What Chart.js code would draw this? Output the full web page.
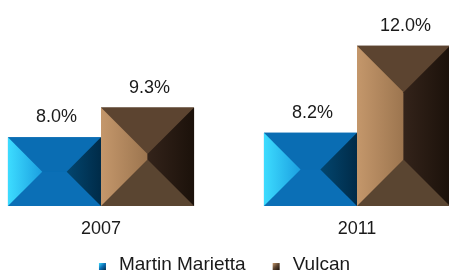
<!DOCTYPE html>
<html>
<head>
<meta charset="utf-8">
<script src="https://cdn.jsdelivr.net/npm/chart.js@4.4.0/dist/chart.umd.min.js"></script>
<style>
  html, body { margin: 0; padding: 0; background: #fff; }
  #wrap { width: 449px; height: 273px; position: relative; }
</style>
</head>
<body>
<div id="wrap"><canvas id="graficoMargens"></canvas></div>
<script>
const anos = ['2007', '2011'];
const martinMarietta = [8.0, 8.2];
const vulcan = [9.3, 12.0];
const eixoMin = 5;
const eixoMax = 14;

const fonte = 'Liberation Sans, Arial, sans-serif';

// cores das faces de cada "pirâmide"
const facesAzul = {
  topo: '#0a6db3', base: '#0b6fb6',
  esq: ['#3ddcff', '#1b9fe0'], dir: ['#03466f', '#002b48']
};
const facesMarrom = {
  topo: '#5c4430', base: '#5a4531',
  esq: ['#c4976b', '#9c754f'], dir: ['#33231a', '#1b110a']
};

// Desenha as barras em forma de pirâmide e os rótulos
const piramide = {
  id: 'piramide',
  afterDatasetsDraw(chart) {
    const ctx = chart.ctx;
    chart.data.datasets.forEach((ds, i) => {
      const meta = chart.getDatasetMeta(i);
      const f = ds.faces;
      meta.data.forEach((bar, j) => {
        const p = bar.getProps(['x', 'y', 'base', 'width'], true);
        const l = p.x - p.width / 2, r = p.x + p.width / 2;
        const t = Math.min(p.y, p.base), b = Math.max(p.y, p.base);
        const d = Math.min(r - l, b - t) / 2;

        ctx.save();
        // topo
        ctx.fillStyle = f.topo;
        ctx.beginPath();
        ctx.moveTo(l, t); ctx.lineTo(r, t); ctx.lineTo(r - d, t + d); ctx.lineTo(l + d, t + d);
        ctx.closePath(); ctx.fill();
        // base
        ctx.fillStyle = f.base;
        ctx.beginPath();
        ctx.moveTo(l, b); ctx.lineTo(r, b); ctx.lineTo(r - d, b - d); ctx.lineTo(l + d, b - d);
        ctx.closePath(); ctx.fill();
        // esquerda
        let g = ctx.createLinearGradient(l, 0, l + d, 0);
        g.addColorStop(0, f.esq[0]); g.addColorStop(1, f.esq[1]);
        ctx.fillStyle = g;
        ctx.beginPath();
        ctx.moveTo(l, t); ctx.lineTo(l + d, t + d); ctx.lineTo(l + d, b - d); ctx.lineTo(l, b);
        ctx.closePath(); ctx.fill();
        // direita
        g = ctx.createLinearGradient(r - d, 0, r, 0);
        g.addColorStop(0, f.dir[0]); g.addColorStop(1, f.dir[1]);
        ctx.fillStyle = g;
        ctx.beginPath();
        ctx.moveTo(r, t); ctx.lineTo(r - d, t + d); ctx.lineTo(r - d, b - d); ctx.lineTo(r, b);
        ctx.closePath(); ctx.fill();

        // rótulo do valor
        ctx.fillStyle = '#1a1a1a';
        ctx.font = '18px ' + fonte;
        ctx.textAlign = 'center';
        ctx.textBaseline = 'middle';
        ctx.fillText(ds.data[j].toFixed(1) + '%', p.x + 2, t - 20);
        ctx.restore();
      });
    });
  }
};

// Legenda desenhada à mão (marcador pequeno com degradê)
const legenda = {
  id: 'legenda',
  afterDraw(chart) {
    const ctx = chart.ctx;
    const baseTexto = 270;
    const lado = 7, gapTexto = 13, gapItens = 27;
    ctx.save();
    ctx.font = '19px ' + fonte;
    const itens = chart.data.datasets.map(ds => ({
      texto: ds.label,
      faces: ds.faces,
      larg: ctx.measureText(ds.label).width
    }));
    const total = itens.reduce((s, it) => s + lado + gapTexto + it.larg, 0) + gapItens * (itens.length - 1);
    let x = chart.width / 2 - total / 2;
    itens.forEach(it => {
      const g = ctx.createLinearGradient(x, baseTexto - lado, x + lado, baseTexto);
      g.addColorStop(0, it.faces.esq[0]);
      g.addColorStop(0.5, it.faces.topo);
      g.addColorStop(1, it.faces.dir[1]);
      ctx.fillStyle = g;
      ctx.fillRect(x, baseTexto - lado, lado, lado);
      x += lado + gapTexto;
      ctx.fillStyle = '#1a1a1a';
      ctx.textAlign = 'left';
      ctx.textBaseline = 'alphabetic';
      ctx.fillText(it.texto, x, baseTexto);
      x += it.larg + gapItens;
    });
    ctx.restore();
  }
};

const ctx = document.getElementById('graficoMargens').getContext('2d');
new Chart(ctx, {
  type: 'bar',
  data: {
    labels: anos,
    datasets: [
      {
        label: 'Martin Marietta',
        data: martinMarietta,
        backgroundColor: '#0a6db3',
        faces: facesAzul,
        base: eixoMin,
        clip: false,
        categoryPercentage: 0.727,
        barPercentage: 1.0
      },
      {
        label: 'Vulcan',
        data: vulcan,
        backgroundColor: '#5c4430',
        faces: facesMarrom,
        base: eixoMin,
        clip: false,
        categoryPercentage: 0.727,
        barPercentage: 1.0
      }
    ]
  },
  options: {
    responsive: true,
    maintainAspectRatio: false,
    animation: false,
    layout: { padding: 0 },
    plugins: {
      legend: { display: false },
      tooltip: { enabled: false }
    },
    scales: {
      y: {
        position: 'left',
        min: eixoMin,
        max: eixoMax,
        ticks: { display: false },
        grid: { display: false, drawTicks: false },
        border: { display: false },
        afterFit: function(scale) { scale.width = 101; }
      },
      yDir: {
        position: 'right',
        ticks: { display: false },
        grid: { display: false, drawTicks: false },
        border: { display: false },
        afterFit: function(scale) { scale.width = 92; }
      },
      x: {
        offset: false,
        grid: { display: false, drawTicks: false },
        border: { display: false },
        ticks: {
          color: '#1a1a1a',
          padding: 12,
          font: { family: fonte, size: 18 }
        },
        afterFit: function(scale) { scale.height = 67; }
      }
    }
  },
  plugins: [piramide, legenda]
});
</script>
</body>
</html>
